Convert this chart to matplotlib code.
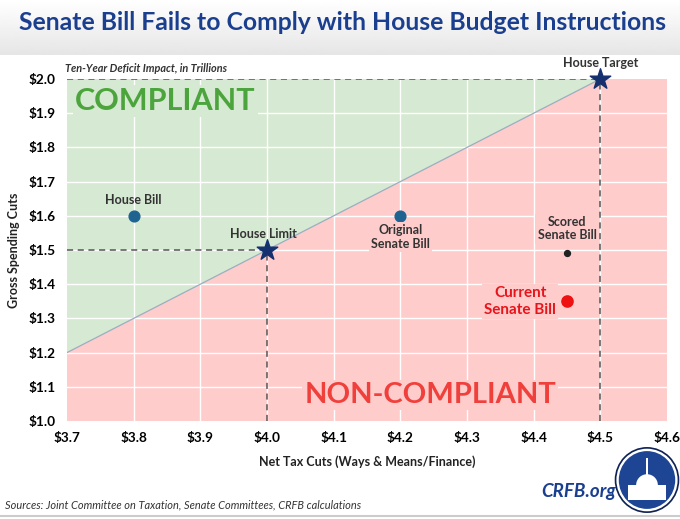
import numpy as np
import matplotlib
matplotlib.use("Agg")
import matplotlib.pyplot as plt
from matplotlib.patches import Polygon, Ellipse, Rectangle, Wedge

plt.rcParams["font.family"] = ["Lato", "DejaVu Sans"]

# Ten-year deficit impact, trillions
bill_names = ["House Bill", "Original\nSenate Bill"]
bill_tax = [3.8, 4.2]
bill_spend = [1.6, 1.6]

scored_tax, scored_spend = 4.45, 1.49
current_tax, current_spend = 4.45, 1.35

limit_tax, limit_spend = 4.0, 1.5
target_tax, target_spend = 4.5, 2.0

xticks = [3.7, 3.8, 3.9, 4.0, 4.1, 4.2, 4.3, 4.4, 4.5, 4.6]
yticks = [1.0, 1.1, 1.2, 1.3, 1.4, 1.5, 1.6, 1.7, 1.8, 1.9, 2.0]

NAVY = "#1b3f8f"
GREEN_FILL = "#d6e9d2"
RED_FILL = "#ffcccc"
LABEL = "#333333"

fig = plt.figure(figsize=(6.8, 5.19), dpi=100)

# header gradient band
hdr = fig.add_axes([0, 1 - 55 / 519, 1, 55 / 519])
grad = np.linspace(1.0, 0.9, 50).reshape(-1, 1)
hdr.imshow(grad, aspect="auto", cmap="gray", vmin=0, vmax=1, extent=[0, 1, 0, 1])
hdr.axis("off")
fig.text(0.504, 1 - 23 / 519, "Senate Bill Fails to Comply with House Budget Instructions",
         ha="center", va="center", fontsize=17.8, fontweight="bold", color=NAVY)

ax = fig.add_axes([67 / 680, 1 - 421 / 519, 600 / 680, 342 / 519])
x0, x1 = xticks[0], xticks[-1]
y0, y1 = yticks[0], yticks[-1]
ax.set_xlim(x0, x1)
ax.set_ylim(y0, y1)

# compliance line: slope one through the house limit and target
line_start = limit_spend - (limit_tax - x0)
ax.add_patch(Polygon([(x0, line_start), (target_tax, target_spend), (x0, y1)],
                     closed=True, facecolor=GREEN_FILL, edgecolor="none", zorder=0))
ax.add_patch(Polygon([(x0, y0), (x0, line_start), (target_tax, target_spend), (x1, y1), (x1, y0)],
                     closed=True, facecolor=RED_FILL, edgecolor="none", zorder=0))
ax.plot([x0, target_tax], [line_start, target_spend], color="#9aaec0", lw=0.9, zorder=2)

for t in xticks[1:-1]:
    ax.axvline(t, color="white", lw=1.0, zorder=1)
for t in yticks[1:-1]:
    ax.axhline(t, color="white", lw=1.0, zorder=1)

dash = dict(color="#555555", lw=1.1, ls=(0, (4, 3)), zorder=3)
ax.plot([x0, limit_tax], [limit_spend, limit_spend], **dash)
ax.plot([limit_tax, limit_tax], [y0, limit_spend], **dash)
ax.plot([x0, target_tax], [target_spend, target_spend], **dash)
ax.plot([target_tax, target_tax], [y0, target_spend], **dash)


def box(fc):
    return dict(facecolor=fc, edgecolor="none", pad=1.5)


ax.scatter(bill_tax, bill_spend, s=60, color="#1f6491", zorder=5)
ax.text(bill_tax[0], bill_spend[0] + 0.03, bill_names[0], ha="center", va="bottom",
        fontsize=9, fontweight="bold", color=LABEL, zorder=6)
ax.text(bill_tax[1], bill_spend[1] - 0.025, bill_names[1], ha="center", va="top",
        fontsize=9, fontweight="bold", color=LABEL, linespacing=1.15, zorder=6,
        bbox=box(RED_FILL))

ax.scatter([scored_tax], [scored_spend], s=18, color="#222222", zorder=5)
ax.text(scored_tax, scored_spend + 0.035, "Scored\nSenate Bill", ha="center", va="bottom",
        fontsize=9, fontweight="bold", color=LABEL, linespacing=1.15, zorder=6,
        bbox=box(RED_FILL))
ax.scatter([current_tax], [current_spend], s=65, color="#ee1111", zorder=5)
ax.text(current_tax - 0.016, current_spend, "Current\nSenate Bill", ha="right", va="center",
        multialignment="center", fontsize=11, fontweight="bold", color="#e8141c",
        linespacing=1.25, zorder=6, bbox=box(RED_FILL))

ax.scatter([limit_tax, target_tax], [limit_spend, target_spend], marker="*", s=240,
           color="#14306e", zorder=7, clip_on=False)
ax.text(limit_tax - 0.005, limit_spend + 0.03, "House Limit", ha="center", va="bottom",
        fontsize=9, fontweight="bold", color=LABEL, zorder=6)
ax.text(target_tax, target_spend + 0.03, "House Target", ha="center", va="bottom",
        fontsize=9, fontweight="bold", color=LABEL, zorder=6, clip_on=False)

ax.text(x0 + 0.012, 1.935, "COMPLIANT", ha="left", va="center", fontsize=22,
        fontweight="bold", color="#4ca53c", zorder=6, bbox=box(GREEN_FILL))
ax.text(4.245, 1.075, "NON-COMPLIANT", ha="center", va="center", fontsize=21,
        fontweight="bold", color="#f0403c", zorder=6, bbox=box(RED_FILL))

ax.text(x0 - 0.003, y1 + 0.015, "Ten-Year Deficit Impact, in Trillions", ha="left", va="bottom",
        fontsize=7.8, style="italic", fontweight="bold", color=LABEL)

ax.set_xticks(xticks)
ax.set_xticklabels([f"${v:.1f}" for v in xticks])
ax.set_yticks(yticks)
ax.set_yticklabels([f"${v:.1f}" for v in yticks])
ax.tick_params(length=0, labelsize=9.8, pad=8)
for lab in ax.get_xticklabels() + ax.get_yticklabels():
    lab.set_fontweight("bold")
for s in ax.spines.values():
    s.set_visible(False)
ax.set_xlabel("Net Tax Cuts (Ways & Means/Finance)", fontsize=9, fontweight="bold",
              color="#222222", labelpad=8)
ax.set_ylabel("Gross Spending Cuts", fontsize=9, fontweight="bold", color="#222222",
              labelpad=6)

fig.text(0.008, 1 - 505 / 519, "Sources: Joint Committee on Taxation, Senate Committees, CRFB calculations",
         ha="left", va="center", fontsize=7.9, style="italic", color=LABEL)
fig.text(541 / 680, 1 - 491 / 519, "CRFB.org", ha="left", va="center", fontsize=13.5,
         fontweight="bold", style="italic", color=NAVY)

# logo stand-in: ringed blue disc with a small white dome
lg = fig.add_axes([(647 - 34) / 680, 1 - (480 + 34) / 519, 68 / 680, 68 / 519])
lg.set_xlim(-1, 1)
lg.set_ylim(-1, 1)
lg.axis("off")
lg.add_patch(Ellipse((0, 0), 1.9, 1.94, facecolor="#0f2255", edgecolor="none"))
lg.add_patch(Ellipse((0, 0), 1.8, 1.84, facecolor="white", edgecolor="none"))
lg.add_patch(Ellipse((0, 0), 1.66, 1.7, facecolor="#1d4594", edgecolor="none"))
lg.add_patch(Wedge((0, -0.15), 0.32, 0, 180, facecolor="white", edgecolor="none"))
lg.add_patch(Rectangle((-0.55, -0.6), 1.1, 0.45, facecolor="white", edgecolor="none"))
lg.add_patch(Rectangle((-0.03, 0.15), 0.06, 0.5, facecolor="white", edgecolor="none"))

fig.lines.append(plt.Line2D([0, 1], [1 - 516 / 519] * 2, transform=fig.transFigure,
                            color="#cccccc", lw=1.5))

fig.savefig("out.png", dpi=100)
